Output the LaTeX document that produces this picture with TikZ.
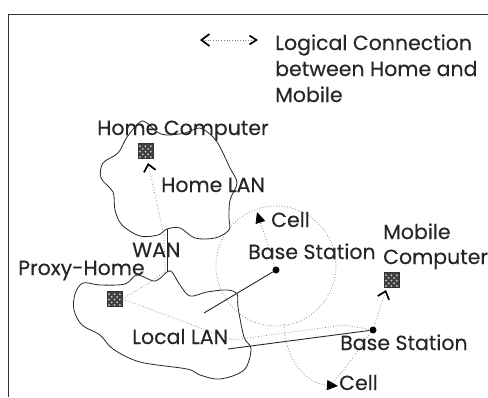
\documentclass[tikz,border=0pt]{standalone}
\usepackage{fontspec}
\setmainfont{Poppins}[FakeBold=0.25]
\usetikzlibrary{arrows.meta}
\tikzset{
  lbl/.style={anchor=base west,inner sep=0pt,font=\fontsize{20.5}{20.5}\selectfont,text=black!85},
  pc/.style={draw=black!80,fill=black!75,minimum size=15pt,inner sep=0pt,line width=.4pt,
    path picture={\foreach \i in {0,...,4}{\foreach \j in {0,...,4}{
      \pgfmathparse{int(mod(\i+\j,2))}
      \ifnum\pgfmathresult=0\relax
        \fill[white!80!black] ([xshift=1.5pt+\i*2.7pt,yshift=1.5pt+\j*2.7pt]path picture bounding box.south west) circle[radius=1pt];
      \fi}}}},
  bsdot/.style={circle,fill=black,inner sep=0pt,minimum size=7pt},
  cloud/.style={line width=.8pt,draw=black!85},
  wire/.style={line width=.9pt,draw=black!85},
  logical/.style={dotted,line width=.7pt,draw=black!50},
  cellline/.style={dotted,line width=.8pt,draw=black!45},
  chev/.style={-{Straight Barb[length=7pt,width=12pt,line width=1.7pt,black]}},
  chevboth/.style={{Straight Barb[length=8pt,width=12pt,line width=1.7pt,black]}-{Straight Barb[length=7pt,width=9pt,line width=1.7pt,black]}},
  celltip/.style={-{Triangle[length=11pt,width=10pt,black]}}
}
\begin{document}
\begin{tikzpicture}[x=1pt,y=-1pt]
\useasboundingbox (0,0) rectangle (488,397);
\fill[white] (0,0) rectangle (488,397);
\draw[line width=.9pt,black!80] (8,397) -- (8,14) -- (488,14);

% clouds
\draw[cloud] plot[smooth cycle,tension=.55] coordinates {
 (140,122) (147,123) (157,132) (167,135) (185,133) (200,128) (213,137) (220,147) (230,168) (237,183) (230,200)
 (229,218) (229,230) (215,238) (195,238) (180,228) (167,229) (158,235) (140,236) (122,225) (115,210)
 (113,192) (101,178) (103,163) (118,153) (127,137)};
\draw[cloud] plot[smooth cycle,tension=.55] coordinates {
 (167,272) (155,281) (137,275) (125,284) (100,285) (83,283) (75,294) (74,310) (82,325) (100,335) (113,349)
 (140,362) (187,369) (200,375) (220,379) (244,370) (251,349) (244,337) (238,307) (237,294) (227,290)
 (207,292) (190,296) (180,285) (172,272)};
\coordinate (wanT) at (167,229);
\coordinate (wanB) at (167,272);
\draw[cloud] (wanT) -- (wanB);

% nodes
\node[pc] (homepc) at (146,151) {};
\node[pc] (proxy) at (115,299) {};
\node[pc] (mobilepc) at (392,280) {};
\node[bsdot] (bs1) at (276,270) {};
\node[bsdot] (bs2) at (373,330) {};
\coordinate (lan1) at (204,313);
\coordinate (lan2) at (228,349);
\draw[wire] (lan1) -- (bs1);
\draw[wire] (lan2) -- (bs2);

% cells
\coordinate (c1) at (276,266);
\draw[cellline] (c1) circle[radius=60];
\coordinate (c1tip) at (257,212);
\draw[cellline,celltip] (bs1) -- (c1tip);
\coordinate (c2a) at (284,324);
\coordinate (c2tip) at (338,386);
\draw[cellline,celltip] (c2a) .. controls (284,350) and (300,383) .. (c2tip);
\draw[cellline] (bs2) .. controls (364,340) and (350,365) .. (331,384);

% logical connection
\coordinate (hup) at (148,163);
\coordinate (w1) at (164,235);
\coordinate (w2) at (165,272);
\coordinate (w3) at (147,284);
\coordinate (l1) at (233,340);
\coordinate (l2) at (344,325);
\coordinate (mup) at (386,290);
\draw[logical,chev] (w1) -- (hup);
\draw[logical] (w1) -- (w2) -- (w3) -- (proxy.east);
\draw[logical] (proxy.east) -- (l1) -- (l2) -- (bs2);
\draw[logical,chev] (bs2) -- (mup);
\coordinate (la) at (200,40);
\coordinate (lb) at (258,40);
\draw[logical,chevboth] (la) -- (lb);

% labels
\node[lbl] (t1) at (275,50) {Logical Connection};
\node[lbl] (t2) at (275,76) {between Home and};
\node[lbl] (t3) at (275,102) {Mobile};
\node[lbl] (t4) at (97,135) {Home Computer};
\node[lbl] (t5) at (161,192) {Home LAN};
\node[lbl] (t6) at (271,227) {Cell};
\node[lbl] (t7) at (248,259) {Base Station};
\node[lbl] (t8) at (383,239) {Mobile};
\node[lbl] (t9) at (383,264) {Computer};
\node[lbl] (t10) at (132,257) {WAN};
\node[lbl] (t11) at (18,275) {Proxy-Home};
\node[lbl] (t12) at (132,344) {Local LAN};
\node[lbl] (t13) at (340,350) {Base Station};
\node[lbl] (t14) at (339,390) {Cell};
\end{tikzpicture}
\end{document}
